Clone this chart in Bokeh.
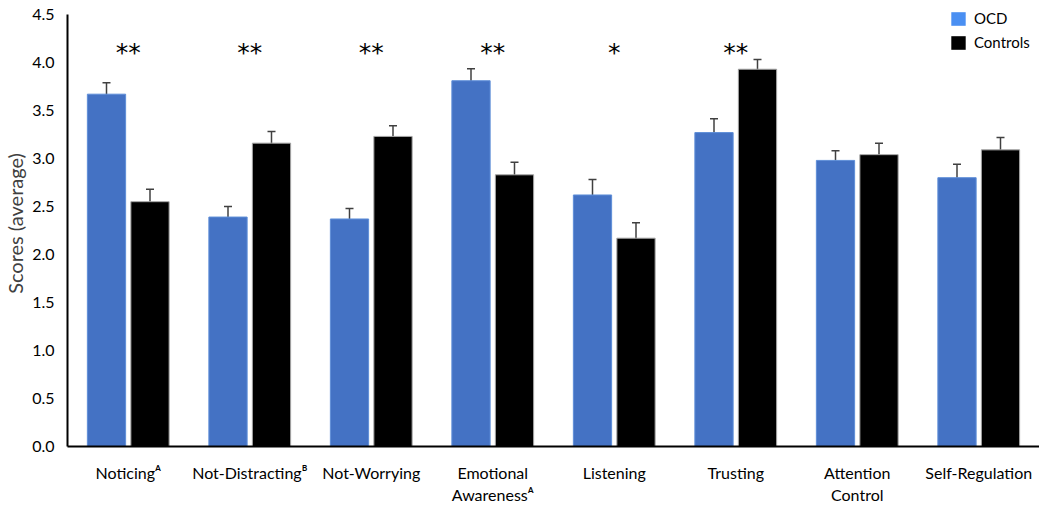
from bokeh.plotting import figure
from bokeh.models import ColumnDataSource, Whisker, TeeHead, Legend, LegendItem, FixedTicker, NumeralTickFormatter, FactorRange, Range1d
from bokeh.transform import dodge
from bokeh.core.properties import value
from bokeh.embed import file_html
from bokeh.resources import INLINE

categories = ["Noticing\u1d2c", "Not-Distracting\u1d2e", "Not-Worrying", "Emotional\nAwareness\u1d2c",
              "Listening", "Trusting", "Attention\nControl", "Self-Regulation"]
ocd = [3.67, 2.39, 2.37, 3.81, 2.62, 3.27, 2.98, 2.80]
ocd_err = [0.12, 0.11, 0.11, 0.125, 0.16, 0.145, 0.10, 0.14]
controls = [2.55, 3.16, 3.23, 2.83, 2.17, 3.93, 3.04, 3.09]
controls_err = [0.13, 0.12, 0.11, 0.13, 0.16, 0.10, 0.12, 0.13]
significance = ["**", "**", "**", "**", "*", "**", "", ""]
y_ticks = [0.0, 0.5, 1.0, 1.5, 2.0, 2.5, 3.0, 3.5, 4.0, 4.5]

FONT = "Lato"

src = ColumnDataSource(dict(
    cat=categories,
    ocd=ocd, ocd_lo=[v - e for v, e in zip(ocd, ocd_err)], ocd_hi=[v + e for v, e in zip(ocd, ocd_err)],
    ctl=controls, ctl_lo=[v - e for v, e in zip(controls, controls_err)], ctl_hi=[v + e for v, e in zip(controls, controls_err)],
    sig=significance, sig_y=[4.105] * len(categories),
))

# axis runs 0..4.5; a little head-room above it holds the legend (as in the reference)
p = figure(x_range=FactorRange(*categories, range_padding=0), y_range=Range1d(0, 4.5 + 14 / 96),
           frame_width=972, frame_height=446,
           min_border_left=62, min_border_right=0, min_border_top=0, min_border_bottom=44,
           output_backend="svg", toolbar_location=None)
p.x_range.range_padding = 0

off = 0.179
bw = 0.315
p.vbar(x=dodge("cat", -off, range=p.x_range), top="ocd", width=bw, source=src,
       fill_color="#4472C4", line_color="#5E8ED8", line_width=1)
p.vbar(x=dodge("cat", off, range=p.x_range), top="ctl", width=bw, source=src,
       fill_color="#000000", line_color="#A6A6A6", line_width=1)

for key, o in (("ocd", -off), ("ctl", off)):
    w = Whisker(base=dodge("cat", o, range=p.x_range), upper=key + "_hi", lower=key + "_lo", source=src,
                line_color="#404040", line_width=1.5,
                upper_head=TeeHead(size=8, line_color="#404040", line_width=1.5),
                lower_head=TeeHead(size=8, line_color="#404040", line_width=1.5))
    p.add_layout(w)

p.text(x="cat", y="sig_y", text="sig", source=src, text_font=value("DejaVu Sans"),
       text_font_size="25px", text_align="center", text_baseline="middle", text_color="#000000")

# legend (zero-height proxy bars so the swatches are drawn)
r_ocd = p.vbar(x=[categories[0]], top=[0], bottom=[0], width=0.01, fill_color="#4A8FF2", line_color=None)
r_ctl = p.vbar(x=[categories[0]], top=[0], bottom=[0], width=0.01, fill_color="#000000", line_color=None)
legend = Legend(items=[LegendItem(label="OCD", renderers=[r_ocd]),
                       LegendItem(label="Controls", renderers=[r_ctl])],
                location=(882, 395), orientation="vertical",
                background_fill_alpha=0, border_line_color=None,
                padding=0, margin=0, spacing=6, glyph_width=18, glyph_height=17,
                label_standoff=7, label_text_font=FONT, label_text_font_size="15px",
                label_text_color="#000000", label_height=17)
p.add_layout(legend)

p.xgrid.visible = False
p.ygrid.visible = False
p.outline_line_color = None

p.yaxis.bounds = (0, 4.5)
p.yaxis.ticker = FixedTicker(ticks=y_ticks)
p.yaxis.formatter = NumeralTickFormatter(format="0.0")
p.yaxis.axis_label = "Scores (average)"
p.yaxis.axis_label_text_font = FONT
p.yaxis.axis_label_text_font_style = "normal"
p.yaxis.axis_label_text_font_size = "20px"
p.yaxis.axis_label_text_color = "#404040"
p.yaxis.axis_label_standoff = 2
p.yaxis.major_label_text_font = FONT
p.yaxis.major_label_text_font_size = "16px"
p.yaxis.major_label_text_color = "#000000"
p.yaxis.major_tick_line_color = None
p.yaxis.minor_tick_line_color = None
p.yaxis.major_tick_out = 0
p.yaxis.minor_tick_out = 0
p.yaxis.major_label_standoff = 13
p.yaxis.axis_line_color = "#000000"
p.yaxis.axis_line_width = 2

p.xaxis.major_label_text_font = FONT
p.xaxis.major_label_text_font_size = "16px"
p.xaxis.major_label_text_color = "#000000"
p.xaxis.major_tick_line_color = None
p.xaxis.minor_tick_line_color = None
p.xaxis.major_tick_out = 0
p.xaxis.minor_tick_out = 0
p.xaxis.major_label_standoff = 16
p.xaxis.axis_line_color = "#000000"
p.xaxis.axis_line_width = 2

open("out.html", "w").write(file_html(p, INLINE))
